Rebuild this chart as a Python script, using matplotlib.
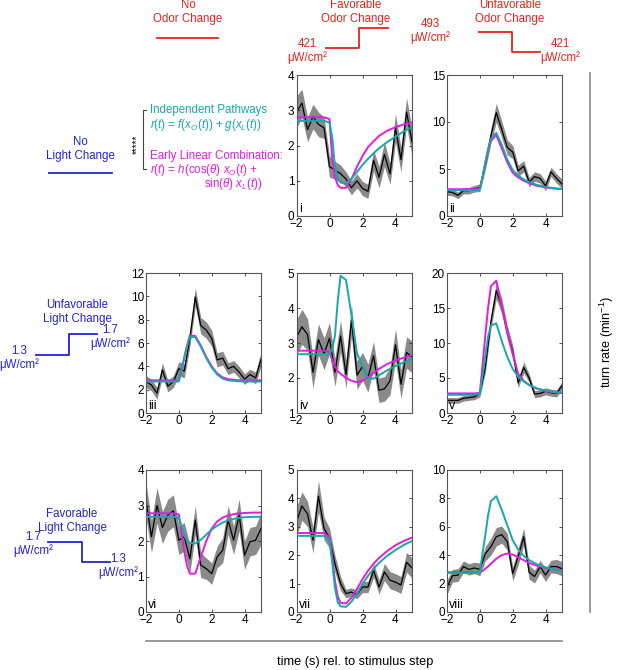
import numpy as np
import matplotlib
matplotlib.use("Agg")
import matplotlib.pyplot as plt

plt.rcParams['font.family'] = ['Liberation Sans', 'DejaVu Sans']
plt.rcParams['font.size'] = 8
plt.rcParams['mathtext.fontset'] = 'custom'
plt.rcParams['mathtext.rm'] = 'Liberation Sans'
plt.rcParams['mathtext.it'] = 'Liberation Sans:italic'

RED = '#e3241b'
BLUE = '#2323d2'
TEAL = '#17a9a9'
MAGENTA = '#e31be3'
GRAY = '#8a8a8a'

# time bins of the measured turn rate (s)
t_data = [-2.0, -1.67, -1.33, -1.0, -0.67, -0.33, 0.0, 0.33, 0.67, 1.0, 1.33,
          1.67, 2.0, 2.33, 2.67, 3.0, 3.33, 3.67, 4.0, 4.33, 4.67, 5.0]
# time points of the model curves (s)
t_model = [-2.0, -1.0, -0.33, 0.0, 0.17, 0.33, 0.5, 0.67, 1.0, 1.33, 1.67,
           2.0, 2.33, 2.67, 3.0, 3.5, 4.0, 4.5, 5.0]

# panel i: favorable odor, no light change
i_mean = [2.95, 3.2, 2.45, 2.82, 2.6, 2.5, 1.4, 1.3, 1.2, 1.05, 0.8,
          1.0, 0.78, 0.7, 1.58, 1.1, 1.75, 1.2, 2.5, 1.6, 2.95, 2.1]
i_err = [0.45, 0.4, 0.35, 0.35, 0.35, 0.3, 0.3, 0.25, 0.25, 0.2, 0.2,
         0.2, 0.2, 0.2, 0.3, 0.3, 0.35, 0.3, 0.4, 0.35, 0.4, 0.4]
i_indep = [2.7, 2.7, 2.7, 2.65, 2.2, 1.4, 1.05, 0.95, 0.93, 1.05, 1.25,
           1.45, 1.62, 1.78, 1.92, 2.1, 2.25, 2.4, 2.52]
i_early = [2.8, 2.8, 2.8, 2.75, 1.6, 1.1, 0.88, 0.8, 0.8, 1.05, 1.4,
           1.7, 1.95, 2.12, 2.27, 2.42, 2.52, 2.6, 2.65]

# panel ii: unfavorable odor, no light change
ii_mean = [2.6, 2.5, 2.2, 2.7, 2.7, 2.9, 3.0, 5.5, 8.5, 11.0, 9.2,
           7.3, 6.8, 4.8, 5.3, 3.6, 4.2, 4.0, 3.2, 4.7, 4.0, 3.4]
ii_err = [0.4, 0.35, 0.35, 0.35, 0.35, 0.35, 0.4, 0.6, 0.8, 1.0, 0.9,
          0.8, 0.7, 0.6, 0.6, 0.5, 0.5, 0.5, 0.5, 0.5, 0.5, 0.5]
ii_indep = [2.75, 2.75, 2.75, 2.8, 4.2, 5.7, 7.1, 8.2, 8.85, 7.6, 6.0,
            4.9, 4.3, 3.9, 3.6, 3.3, 3.1, 2.95, 2.87]
ii_early = [2.85, 2.85, 2.85, 2.9, 4.2, 5.6, 7.0, 8.0, 8.6, 7.2, 5.7,
            4.6, 4.1, 3.75, 3.5, 3.2, 3.05, 2.93, 2.87]

# panel iii: no odor change, unfavorable light
iii_mean = [2.7, 2.4, 1.7, 3.7, 2.3, 2.7, 3.8, 3.6, 6.4, 9.95, 7.5,
            7.1, 6.4, 4.55, 4.7, 3.8, 4.0, 3.5, 2.9, 3.3, 3.0, 4.6]
iii_err = [0.5, 0.5, 0.5, 0.6, 0.5, 0.5, 0.6, 0.6, 0.7, 0.8, 0.7,
           0.7, 0.7, 0.6, 0.6, 0.5, 0.5, 0.5, 0.45, 0.45, 0.5, 0.6]
iii_indep = [2.7, 2.7, 2.7, 2.7, 3.7, 4.7, 5.7, 6.55, 6.5, 5.7, 4.7,
             3.9, 3.3, 2.95, 2.8, 2.73, 2.7, 2.7, 2.7]
iii_early = [2.8, 2.8, 2.8, 2.8, 3.8, 4.8, 5.8, 6.65, 6.6, 5.8, 4.8,
             4.0, 3.4, 3.05, 2.9, 2.82, 2.8, 2.8, 2.8]

# panel iv: favorable odor, unfavorable light
iv_mean = [3.17, 3.46, 3.24, 2.16, 3.1, 2.69, 3.14, 2.16, 3.2, 2.1, 3.65,
           2.08, 2.33, 2.0, 2.64, 1.65, 1.69, 1.92, 2.95, 1.82, 2.73, 2.6]
iv_err = [0.5, 0.5, 0.45, 0.45, 0.45, 0.45, 0.45, 0.4, 0.45, 0.4, 0.45,
          0.4, 0.4, 0.4, 0.4, 0.35, 0.35, 0.4, 0.45, 0.4, 0.45, 0.45]
iv_indep = [2.68, 2.68, 2.68, 2.68, 2.85, 3.2, 4.2, 4.92, 4.8, 3.8, 2.7,
            2.35, 2.0, 1.98, 2.08, 2.22, 2.34, 2.45, 2.55]
iv_early = [2.78, 2.78, 2.78, 2.75, 2.5, 2.32, 2.2, 2.12, 2.0, 1.92, 1.88,
            1.92, 2.02, 2.14, 2.26, 2.4, 2.5, 2.58, 2.65]

# panel v: unfavorable odor, unfavorable light
v_mean = [1.8, 1.8, 1.8, 2.1, 2.2, 2.3, 2.8, 6.5, 13.0, 17.5, 15.3,
          11.5, 8.8, 4.3, 6.5, 5.0, 2.7, 2.8, 3.1, 2.9, 2.8, 3.9]
v_err = [0.4, 0.4, 0.4, 0.4, 0.4, 0.4, 0.5, 0.8, 1.0, 1.2, 1.1,
         1.0, 0.9, 0.7, 0.8, 0.6, 0.5, 0.5, 0.5, 0.5, 0.5, 0.6]
v_indep = [2.6, 2.6, 2.6, 2.7, 5.5, 8.2, 10.9, 12.5, 12.8, 10.3, 8.0,
           6.3, 5.2, 4.5, 4.0, 3.5, 3.2, 3.0, 2.9]
v_early = [2.8, 2.8, 2.8, 2.85, 7.0, 11.0, 15.0, 18.1, 18.9, 15.3, 11.6,
           8.4, 5.6, 4.6, 4.0, 3.45, 3.15, 2.95, 2.85]

# panel vi: no odor change, favorable light
vi_mean = [3.15, 2.12, 3.0, 2.38, 2.73, 2.85, 2.02, 2.12, 1.5, 2.59, 1.32,
           1.22, 1.08, 1.55, 1.74, 2.59, 2.02, 2.73, 1.6, 1.98, 2.02, 2.35]
vi_err = [0.5, 0.45, 0.5, 0.45, 0.45, 0.45, 0.4, 0.4, 0.4, 0.4, 0.35,
          0.3, 0.3, 0.3, 0.35, 0.4, 0.4, 0.45, 0.4, 0.4, 0.4, 0.45]
vi_indep = [2.68, 2.68, 2.68, 2.66, 2.4, 2.15, 2.0, 1.95, 1.93, 2.03, 2.18,
            2.32, 2.43, 2.52, 2.58, 2.64, 2.67, 2.68, 2.68]
vi_early = [2.78, 2.78, 2.78, 2.75, 2.2, 1.7, 1.3, 1.08, 1.08, 1.55, 2.0,
            2.35, 2.55, 2.66, 2.72, 2.77, 2.79, 2.8, 2.8]

# panel vii: favorable odor, favorable light
vii_mean = [3.18, 3.73, 3.45, 2.53, 4.08, 2.94, 2.6, 1.7, 1.0, 0.65, 0.7,
            0.62, 0.88, 0.88, 1.47, 0.88, 1.41, 1.12, 1.05, 0.95, 1.75, 1.55]
vii_err = [0.5, 0.5, 0.45, 0.45, 0.55, 0.4, 0.35, 0.3, 0.25, 0.15, 0.15,
           0.15, 0.2, 0.2, 0.25, 0.25, 0.3, 0.3, 0.3, 0.3, 0.35, 0.35]
vii_indep = [2.68, 2.68, 2.68, 2.52, 1.7, 0.85, 0.35, 0.2, 0.18, 0.36, 0.65,
             0.98, 1.27, 1.52, 1.73, 1.98, 2.18, 2.36, 2.5]
vii_early = [2.78, 2.78, 2.78, 2.62, 1.9, 1.1, 0.55, 0.32, 0.3, 0.5, 0.82,
             1.15, 1.45, 1.7, 1.9, 2.15, 2.35, 2.5, 2.62]

# panel viii: unfavorable odor, favorable light
viii_mean = [1.75, 2.55, 2.6, 3.2, 3.0, 3.1, 3.0, 4.1, 4.6, 5.3, 5.45,
             4.95, 2.7, 3.9, 5.3, 2.8, 2.5, 3.2, 2.6, 3.2, 3.2, 3.05]
viii_err = [0.5, 0.45, 0.45, 0.4, 0.4, 0.4, 0.45, 0.5, 0.6, 0.65, 0.6,
            0.6, 0.5, 0.6, 0.6, 0.5, 0.45, 0.45, 0.45, 0.45, 0.5, 0.5]
viii_indep = [2.75, 2.75, 2.75, 2.8, 4.2, 5.4, 6.8, 7.8, 8.15, 7.2, 6.1,
              5.05, 4.4, 3.95, 3.65, 3.35, 3.15, 3.0, 2.9]
viii_early = [2.8, 2.8, 2.8, 2.82, 2.9, 3.05, 3.2, 3.4, 3.75, 4.0, 4.12,
              4.05, 3.85, 3.65, 3.45, 3.25, 3.1, 3.0, 2.95]

W, H = 617, 670
fig = plt.figure(figsize=(W / 100, H / 100), dpi=100)

# overlay in pixel coordinates for the schematic labels
ov = fig.add_axes([0, 0, 1, 1])
ov.set_xlim(0, W)
ov.set_ylim(H, 0)
ov.axis('off')


def px_axes(left, top, right, bottom):
    return fig.add_axes([left / W, 1 - bottom / H, (right - left) / W, (bottom - top) / H])


def panel(rect, label, mean, err, indep, early, ylim, yticks):
    ax = px_axes(*rect)
    mean = np.array(mean)
    err = np.array(err)
    ax.fill_between(t_data, mean - err, mean + err, color=GRAY, lw=0, zorder=1)
    ax.plot(t_data, mean, color='black', lw=0.9, zorder=2)
    ax.plot(t_model, early, color=MAGENTA, lw=1.4, zorder=3)
    ax.plot(t_model, indep, color=TEAL, lw=1.4, zorder=4)
    ax.set_xlim(-2, 5)
    ax.set_ylim(*ylim)
    ax.set_xticks([-2, 0, 2, 4])
    ax.set_xticklabels(['\u22122', '0', '2', '4'])
    ax.set_yticks(yticks)
    ax.tick_params(direction='in', top=True, right=True, length=2.5, width=0.6,
                   labelsize=8.5, pad=1.5, color='#333333')
    for s in ax.spines.values():
        s.set_color('#555555')
        s.set_linewidth(0.8)
    ax.text(0.02, 0.01, label, transform=ax.transAxes, fontsize=9,
            ha='left', va='bottom')
    return ax


cols = [(146, 261), (296.5, 412), (447, 562)]
rows = [(75, 216), (273, 413), (470, 612)]


def rect(r, c):
    return (cols[c][0], rows[r][0], cols[c][1], rows[r][1])


panel(rect(0, 1), 'i', i_mean, i_err, i_indep, i_early, (0, 4), [0, 1, 2, 3, 4])
panel(rect(0, 2), 'ii', ii_mean, ii_err, ii_indep, ii_early, (0, 15), [0, 5, 10, 15])
panel(rect(1, 0), 'iii', iii_mean, iii_err, iii_indep, iii_early, (0, 12), [0, 2, 4, 6, 8, 10, 12])
panel(rect(1, 1), 'iv', iv_mean, iv_err, iv_indep, iv_early, (1, 5), [1, 2, 3, 4, 5])
panel(rect(1, 2), 'v', v_mean, v_err, v_indep, v_early, (0, 20), [0, 5, 10, 15, 20])
panel(rect(2, 0), 'vi', vi_mean, vi_err, vi_indep, vi_early, (0, 4), [0, 1, 2, 3, 4])
panel(rect(2, 1), 'vii', vii_mean, vii_err, vii_indep, vii_early, (0, 5), [0, 1, 2, 3, 4, 5])
panel(rect(2, 2), 'viii', viii_mean, viii_err, viii_indep, viii_early, (0, 10), [0, 2, 4, 6, 8, 10])

fs = 8.3
unit = '\u03bcW/cm\u00b2'
ls = 1.15

# odor column headers
ov.text(188, 12, 'No\nOdor Change', color=RED, fontsize=fs, ha='center', va='center', linespacing=ls)
ov.plot([157, 218], [38, 38], color=RED, lw=1.3)
ov.text(356, 12, 'Favorable\nOdor Change', color=RED, fontsize=fs, ha='center', va='center', linespacing=ls)
ov.plot([326, 359, 359, 388], [48, 48, 28, 28], color=RED, lw=1.3)
ov.text(307, 51, '421\n' + unit, color=RED, fontsize=fs, ha='center', va='center', linespacing=ls)
ov.text(430, 31, '493\n' + unit, color=RED, fontsize=fs, ha='center', va='center', linespacing=ls)
ov.text(510, 12, 'Unfavorable\nOdor Change', color=RED, fontsize=fs, ha='center', va='center', linespacing=ls)
ov.plot([479, 512, 512, 540], [32, 32, 52, 52], color=RED, lw=1.3)
ov.text(560, 51, '421\n' + unit, color=RED, fontsize=fs, ha='center', va='center', linespacing=ls)

# light row headers
ov.text(80, 149, 'No\nLight Change', color=BLUE, fontsize=fs, ha='center', va='center', linespacing=ls)
ov.plot([49, 112], [173, 173], color=BLUE, lw=1.3)
ov.text(77, 312, 'Unfavorable\nLight Change', color=BLUE, fontsize=fs, ha='center', va='center', linespacing=ls)
ov.plot([36, 69, 69, 97], [355, 355, 334, 334], color=BLUE, lw=1.3)
ov.text(110, 337, '1.7\n' + unit, color=BLUE, fontsize=fs, ha='center', va='center', linespacing=ls)
ov.text(19, 358, '1.3\n' + unit, color=BLUE, fontsize=fs, ha='center', va='center', linespacing=ls)
ov.text(72, 521, 'Favorable\nLight Change', color=BLUE, fontsize=fs, ha='center', va='center', linespacing=ls)
ov.plot([48, 82, 82, 110], [542, 542, 562, 562], color=BLUE, lw=1.3)
ov.text(33, 544, '1.7\n' + unit, color=BLUE, fontsize=fs, ha='center', va='center', linespacing=ls)
ov.text(118, 566, '1.3\n' + unit, color=BLUE, fontsize=fs, ha='center', va='center', linespacing=ls)

# model legend
ov.plot([146, 143, 143, 146], [110, 110, 169, 169], color='#444444', lw=0.8)
ov.text(137, 144, '*****', fontsize=7, rotation=90, ha='center', va='center')
ov.text(150, 110, 'Independent Pathways', color=TEAL, fontsize=fs, ha='left', va='center')
ov.text(150, 125, r'$r(t)$ = $f(x_O(t))$ + $g(x_L(t))$', color=TEAL, fontsize=fs, ha='left', va='center')
ov.text(150, 156, 'Early Linear Combination:', color=MAGENTA, fontsize=fs, ha='left', va='center')
ov.text(150, 170, r'$r(t)$ = $h$(cos($\theta$) $x_O(t)$ +', color=MAGENTA, fontsize=fs, ha='left', va='center')
ov.text(262, 184, r'sin($\theta$) $x_L(t)$)', color=MAGENTA, fontsize=fs, ha='right', va='center')

# shared axis labels
ov.plot([590, 590], [73, 612], color=GRAY, lw=1.2)
ov.text(607, 342, r'turn rate (min$^{-1}$)', fontsize=9.2, rotation=90, ha='center', va='center')
ov.plot([146, 562], [641, 641], color=GRAY, lw=1.2)
ov.text(355, 662, 'time (s) rel. to stimulus step', fontsize=9.2, ha='center', va='center')

fig.savefig('out.png', dpi=100)
